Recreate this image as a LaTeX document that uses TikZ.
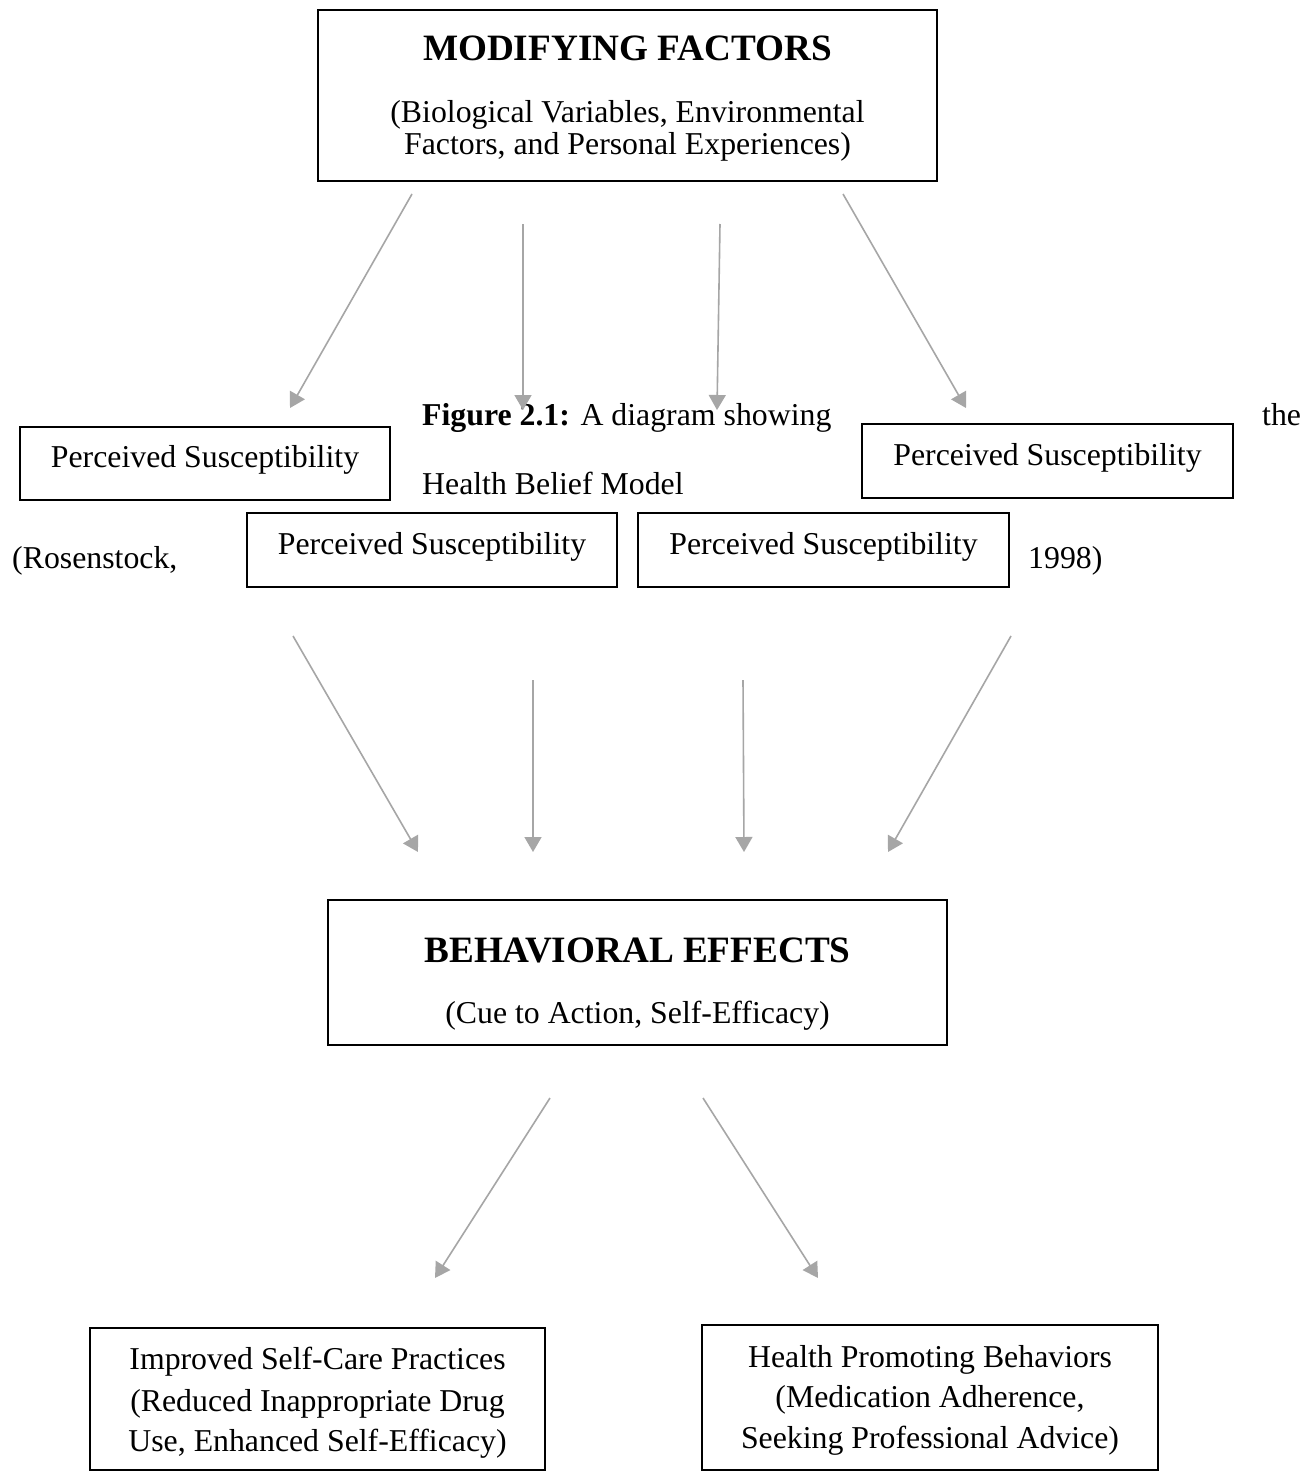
\documentclass[tikz,border=0pt]{standalone}
\usepackage{fontspec}
\setmainfont{Liberation Serif}
\usetikzlibrary{arrows.meta}
\definecolor{arrowgray}{HTML}{A6A6A6}
\tikzset{
  boxnode/.style={draw=black, line width=2.4pt, rectangle, inner sep=0pt, align=center,
    font=\fontsize{31.8pt}{38pt}\selectfont},
  psbox/.style={boxnode, text height=22pt, text depth=14pt},
  txt/.style={inner sep=0pt, anchor=base west, font=\fontsize{31.8pt}{38pt}\selectfont},
  ctxt/.style={inner sep=0pt, anchor=base, font=\fontsize{31.8pt}{38pt}\selectfont},
  flowarrow/.style={draw=arrowgray, line width=1.6pt, -{Triangle[width=17pt,length=15pt]}},
  titlefont/.style={inner sep=0pt, anchor=base, font=\fontsize{37.2pt}{44pt}\selectfont\bfseries}
}
\begin{document}
\begin{tikzpicture}[x=1pt,y=-1pt]
\useasboundingbox (0,0) rectangle (1304,1472);
\fill[white] (0,0) rectangle (1304,1472);

% top box
\node[boxnode, minimum width=619pt, minimum height=171pt] (mod) at (627.5,95.5) {};
\node[titlefont] (modt) at (627.5,60) {MODIFYING FACTORS};
\node[ctxt] (mods1) at (627.5,122) {(Biological Variables, Environmental};
\node[ctxt] (mods2) at (627.5,154) {Factors, and Personal Experiences)};

% perceived boxes
\node[psbox, minimum width=370pt, minimum height=73pt] (psl) at (205,463.5) {Perceived Susceptibility};
\node[psbox, minimum width=371pt, minimum height=74pt] (psr) at (1047.5,461) {Perceived Susceptibility};
\node[psbox, minimum width=370pt, minimum height=74pt] (psml) at (432,550) {Perceived Susceptibility};
\node[psbox, minimum width=371pt, minimum height=74pt] (psmr) at (823.5,550) {Perceived Susceptibility};

% caption text
\node[txt] (fig) at (422,425) {\textbf{Figure 2.1:} A diagram showing};
\node[txt] (the) at (1262,425) {the};
\node[txt] (hbm) at (422,494) {Health Belief Model};
\node[txt] (ros) at (12,568) {(Rosenstock,};
\node[txt] (yr) at (1028,568) {1998)};

% behavioral box
\node[boxnode, minimum width=619pt, minimum height=145pt] (beh) at (637.5,972.5) {};
\node[titlefont] (beht) at (637.5,962) {BEHAVIORAL EFFECTS};
\node[ctxt] (behs) at (637.5,1023) {(Cue to Action, Self-Efficacy)};

% bottom boxes
\node[boxnode, minimum width=455pt, minimum height=142pt] (botl) at (317.5,1399) {};
\node[ctxt] (botl1) at (317.5,1369) {Improved Self-Care Practices};
\node[ctxt] (botl2) at (317.5,1411) {(Reduced Inappropriate Drug};
\node[ctxt] (botl3) at (317.5,1451) {Use, Enhanced Self-Efficacy)};

\node[boxnode, minimum width=456pt, minimum height=145pt] (botr) at (930,1397.5) {};
\node[ctxt] (botr1) at (930,1367) {Health Promoting Behaviors};
\node[ctxt] (botr2) at (930,1407) {(Medication Adherence,};
\node[ctxt] (botr3) at (930,1448) {Seeking Professional Advice)};

% arrow end points
\coordinate (a1s) at (412,194); \coordinate (a1e) at (290,408);
\coordinate (a2s) at (523,224); \coordinate (a2e) at (523,410);
\coordinate (a3s) at (720,224); \coordinate (a3e) at (717,410);
\coordinate (a4s) at (843,194); \coordinate (a4e) at (966,408);
\coordinate (a5s) at (293,636); \coordinate (a5e) at (418,852);
\coordinate (a6s) at (533,680); \coordinate (a6e) at (533,852);
\coordinate (a7s) at (743,680); \coordinate (a7e) at (744,852);
\coordinate (a8s) at (1011,636); \coordinate (a8e) at (888,852);
\coordinate (a9s) at (550,1098); \coordinate (a9e) at (435,1278);
\coordinate (a10s) at (703,1098); \coordinate (a10e) at (818,1278);

\foreach \i in {1,...,10} {
  \draw[flowarrow] (a\i s) -- (a\i e);
}
\end{tikzpicture}
\end{document}
